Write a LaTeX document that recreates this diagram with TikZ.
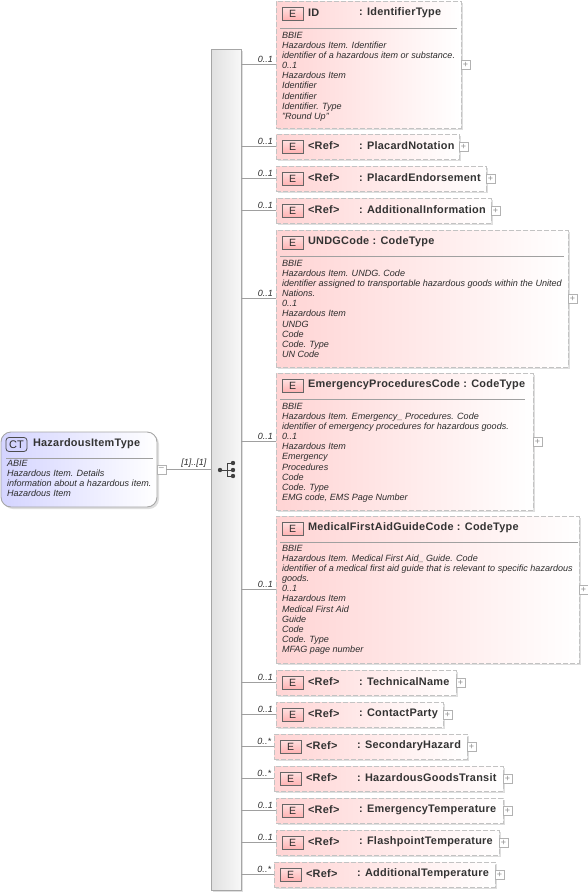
\documentclass[tikz,border=0pt]{standalone}
\usepackage{fontspec}
\usepackage{tikz}
\usetikzlibrary{arrows.meta,positioning,calc,shadows}
\setmainfont{Liberation Sans}
\newfontfamily\titlefont[LetterSpace=2.5]{Liberation Sans}
\definecolor{softpink}{RGB}{255,212,212}
\definecolor{softviolet}{RGB}{212,212,255}
\definecolor{badgepink}{RGB}{255,170,170}
\definecolor{framegray}{RGB}{195,195,195}
\definecolor{linegray}{RGB}{160,160,160}
\definecolor{textgray}{RGB}{45,45,45}

\begin{document}
\begin{tikzpicture}[
    x=1pt, y=-1pt,
    every node/.style={inner sep=0pt, outer sep=0pt, text=textgray},
    softshadow/.style={drop shadow={shadow xshift=2pt, shadow yshift=-2pt, fill=black, opacity=.13}},
    elem/.style={draw=framegray, line width=1pt, dash pattern=on 5pt off 2pt, anchor=north west, left color=softpink, right color=white, softshadow},
    badge/.style={draw=black!60, line width=.8pt, minimum width=21pt, minimum height=13pt, top color=badgepink!35, bottom color=badgepink!90, font=\fontsize{10.5}{11}\selectfont},
    title/.style={anchor=west, yshift=.5pt, font=\titlefont\fontsize{10.9}{12}\selectfont\bfseries, text=black!80},
    reftag/.style={title, text width=51pt},
    desc/.style={anchor=north west, align=left, font=\fontsize{9.05}{10.15}\selectfont\itshape},
    divider/.style={draw=linegray, line width=.8pt},
    plusbox/.style={draw=black!30, fill=white, line width=.7pt, minimum size=9pt, font=\fontsize{9}{9}\selectfont, text=black!45},
    conn/.style={draw=linegray, line width=.8pt},
    mult/.style={pos=1, anchor=south east, xshift=-3pt, yshift=2pt, font=\fontsize{9}{10}\selectfont\itshape}
  ]
    \useasboundingbox (0,0) rectangle (588,894);

    % left type box and the sequence bar
    \node[anchor=north west, draw=black!35, line width=.9pt, rounded corners=10pt, minimum width=156pt, minimum height=75pt, left color=softviolet, right color=white, softshadow] (hazard) at (1,432) {};
    \node[draw=black!70, line width=.8pt, rounded corners=3pt, minimum width=21pt, minimum height=14pt, fill=softviolet, font=\fontsize{11}{11}\selectfont, below right=5.5pt and 5pt of hazard.north west] (hazardct) {CT};
    \node[title, right=6pt of hazardct] (hazardtitle) {HazardousItemType};
    \draw[divider] ([shift={(5pt,-26pt)}]hazard.north west) -- ([shift={(-4pt,-26pt)}]hazard.north east);
    \node[desc, below right=28pt and 6pt of hazard.north west] (hazarddesc) {ABIE\\Hazardous Item. Details\\information about a hazardous item.\\Hazardous Item};
    \node[plusbox, right=0pt of hazard] (hazardminus) {--};
    \node[anchor=north west, draw=black!35, line width=.9pt, minimum width=30pt, minimum height=841pt, left color=black!12, right color=black!3, softshadow] (spine) at (211,49) {};
    \draw[conn] (hazardminus) -- (spine.west |- hazardminus) node[pos=.62, anchor=south, yshift=2pt, font=\fontsize{9}{10}\selectfont\itshape] (hazardmult) {[1]..[1]};
    \fill[black!75] (220,470) circle (2.2pt) (233,463) circle (2.2pt) (233,470) circle (2.2pt) (233,476) circle (2.2pt);
    \draw[black!75, line width=.9pt] (220,470) -- (233,470) (227,463) -- (227,476) (227,463) -- (233,463) (227,476) -- (233,476);

    % ID
    \node[elem, minimum width=185pt, minimum height=127pt] (id) at (276,1) {};
    \node[badge, below right=6pt and 6pt of id.north west] (idbadge) {E};
    \node[reftag, right=5pt of idbadge] (idname) {ID};
    \node[title, right=0pt of idname, yshift=-.5pt] (idtype) {: IdentifierType};
    \draw[divider] ([shift={(4pt,-27pt)}]id.north west) -- ([shift={(-4pt,-27pt)}]id.north east);
    \node[desc, below right=31pt and 6pt of id.north west] (iddesc) {BBIE\\Hazardous Item. Identifier\\identifier of a hazardous item or substance.\\0..1\\Hazardous Item\\Identifier\\Identifier\\Identifier. Type\\"Round Up"};
    \node[plusbox, right=0pt of id] (idplus) {+};
    \draw[conn] (spine.east |- id.west) -- (id.west) node[mult] (idmult) {0..1};

    % PlacardNotation
    \node[elem, minimum width=183pt, minimum height=25pt] (notation) at (276,134) {};
    \node[badge, below right=6pt and 6pt of notation.north west] (notationbadge) {E};
    \node[reftag, right=5pt of notationbadge] (notationname) {<Ref>};
    \node[title, right=0pt of notationname, yshift=-.5pt] (notationtype) {: PlacardNotation};
    \node[plusbox, right=0pt of notation] (notationplus) {+};
    \draw[conn] (spine.east |- notation.west) -- (notation.west) node[mult] (notationmult) {0..1};

    % PlacardEndorsement
    \node[elem, minimum width=210pt, minimum height=25pt] (endorsement) at (276,166) {};
    \node[badge, below right=6pt and 6pt of endorsement.north west] (endorsementbadge) {E};
    \node[reftag, right=5pt of endorsementbadge] (endorsementname) {<Ref>};
    \node[title, right=0pt of endorsementname, yshift=-.5pt] (endorsementtype) {: PlacardEndorsement};
    \node[plusbox, right=0pt of endorsement] (endorsementplus) {+};
    \draw[conn] (spine.east |- endorsement.west) -- (endorsement.west) node[mult] (endorsementmult) {0..1};

    % AdditionalInformation
    \node[elem, minimum width=215pt, minimum height=25pt] (addinfo) at (276,198) {};
    \node[badge, below right=6pt and 6pt of addinfo.north west] (addinfobadge) {E};
    \node[reftag, right=5pt of addinfobadge] (addinfoname) {<Ref>};
    \node[title, right=0pt of addinfoname, yshift=-.5pt] (addinfotype) {: AdditionalInformation};
    \node[plusbox, right=0pt of addinfo] (addinfoplus) {+};
    \draw[conn] (spine.east |- addinfo.west) -- (addinfo.west) node[mult] (addinfomult) {0..1};

    % UNDGCode
    \node[elem, minimum width=292pt, minimum height=137pt] (undg) at (276,230) {};
    \node[badge, below right=6pt and 6pt of undg.north west] (undgbadge) {E};
    \node[title, right=5pt of undgbadge] (undgname) {UNDGCode : CodeType};
    \draw[divider] ([shift={(4pt,-26pt)}]undg.north west) -- ([shift={(-4pt,-26pt)}]undg.north east);
    \node[desc, below right=30pt and 6pt of undg.north west] (undgdesc) {BBIE\\Hazardous Item. UNDG. Code\\identifier assigned to transportable hazardous goods within the United\\Nations.\\0..1\\Hazardous Item\\UNDG\\Code\\Code. Type\\UN Code};
    \node[plusbox, right=0pt of undg] (undgplus) {+};
    \draw[conn] (spine.east |- undg.west) -- (undg.west) node[mult] (undgmult) {0..1};

    % EmergencyProceduresCode
    \node[elem, minimum width=257pt, minimum height=137pt] (procedures) at (276,373) {};
    \node[badge, below right=6pt and 6pt of procedures.north west] (proceduresbadge) {E};
    \node[title, right=5pt of proceduresbadge] (proceduresname) {EmergencyProceduresCode : CodeType};
    \draw[divider] ([shift={(4pt,-26pt)}]procedures.north west) -- ([shift={(-8pt,-26pt)}]procedures.north east);
    \node[desc, below right=30pt and 6pt of procedures.north west] (proceduresdesc) {BBIE\\Hazardous Item. Emergency\_ Procedures. Code\\identifier of emergency procedures for hazardous goods.\\0..1\\Hazardous Item\\Emergency\\Procedures\\Code\\Code. Type\\EMG code, EMS Page Number};
    \node[plusbox, right=0pt of procedures] (proceduresplus) {+};
    \draw[conn] (spine.east |- procedures.west) -- (procedures.west) node[mult] (proceduresmult) {0..1};

    % MedicalFirstAidGuideCode
    \node[elem, minimum width=303pt, minimum height=147pt] (medical) at (276,516) {};
    \node[badge, below right=6pt and 6pt of medical.north west] (medicalbadge) {E};
    \node[title, right=5pt of medicalbadge] (medicalname) {MedicalFirstAidGuideCode : CodeType};
    \draw[divider] ([shift={(4pt,-26pt)}]medical.north west) -- ([shift={(-1pt,-26pt)}]medical.north east);
    \node[desc, below right=29pt and 6pt of medical.north west] (medicaldesc) {BBIE\\Hazardous Item. Medical First Aid\_ Guide. Code\\identifier of a medical first aid guide that is relevant to specific hazardous\\goods.\\0..1\\Hazardous Item\\Medical First Aid\\Guide\\Code\\Code. Type\\MFAG page number};
    \node[plusbox, right=0pt of medical] (medicalplus) {+};
    \draw[conn] (spine.east |- medical.west) -- (medical.west) node[mult] (medicalmult) {0..1};

    % TechnicalName
    \node[elem, minimum width=180pt, minimum height=25pt] (technical) at (276,670) {};
    \node[badge, below right=6pt and 6pt of technical.north west] (technicalbadge) {E};
    \node[reftag, right=5pt of technicalbadge] (technicalname) {<Ref>};
    \node[title, right=0pt of technicalname, yshift=-.5pt] (technicaltype) {: TechnicalName};
    \node[plusbox, right=0pt of technical] (technicalplus) {+};
    \draw[conn] (spine.east |- technical.west) -- (technical.west) node[mult] (technicalmult) {0..1};

    % ContactParty
    \node[elem, minimum width=167pt, minimum height=25pt] (contact) at (276,702) {};
    \node[badge, below right=6pt and 6pt of contact.north west] (contactbadge) {E};
    \node[reftag, right=5pt of contactbadge] (contactname) {<Ref>};
    \node[title, right=0pt of contactname, yshift=-.5pt] (contacttype) {: ContactParty};
    \node[plusbox, right=0pt of contact] (contactplus) {+};
    \draw[conn] (spine.east |- contact.west) -- (contact.west) node[mult] (contactmult) {0..1};

    % SecondaryHazard
    \node[elem, minimum width=193pt, minimum height=25pt] (secondary) at (274,734) {};
    \node[badge, below right=6pt and 6pt of secondary.north west] (secondarybadge) {E};
    \node[reftag, right=5pt of secondarybadge] (secondaryname) {<Ref>};
    \node[title, right=0pt of secondaryname, yshift=-.5pt] (secondarytype) {: SecondaryHazard};
    \node[plusbox, right=0pt of secondary] (secondaryplus) {+};
    \draw[conn] (spine.east |- secondary.west) -- (secondary.west) node[mult] (secondarymult) {0..*};

    % HazardousGoodsTransit
    \node[elem, minimum width=229pt, minimum height=25pt] (transit) at (274,766) {};
    \node[badge, below right=6pt and 6pt of transit.north west] (transitbadge) {E};
    \node[reftag, right=5pt of transitbadge] (transitname) {<Ref>};
    \node[title, right=0pt of transitname, yshift=-.5pt] (transittype) {: HazardousGoodsTransit};
    \node[plusbox, right=0pt of transit] (transitplus) {+};
    \draw[conn] (spine.east |- transit.west) -- (transit.west) node[mult] (transitmult) {0..*};

    % EmergencyTemperature
    \node[elem, minimum width=227pt, minimum height=25pt] (emergency) at (276,798) {};
    \node[badge, below right=6pt and 6pt of emergency.north west] (emergencybadge) {E};
    \node[reftag, right=5pt of emergencybadge] (emergencyname) {<Ref>};
    \node[title, right=0pt of emergencyname, yshift=-.5pt] (emergencytype) {: EmergencyTemperature};
    \node[plusbox, right=0pt of emergency] (emergencyplus) {+};
    \draw[conn] (spine.east |- emergency.west) -- (emergency.west) node[mult] (emergencymult) {0..1};

    % FlashpointTemperature
    \node[elem, minimum width=223pt, minimum height=25pt] (flashpoint) at (276,830) {};
    \node[badge, below right=6pt and 6pt of flashpoint.north west] (flashpointbadge) {E};
    \node[reftag, right=5pt of flashpointbadge] (flashpointname) {<Ref>};
    \node[title, right=0pt of flashpointname, yshift=-.5pt] (flashpointtype) {: FlashpointTemperature};
    \node[plusbox, right=0pt of flashpoint] (flashpointplus) {+};
    \draw[conn] (spine.east |- flashpoint.west) -- (flashpoint.west) node[mult] (flashpointmult) {0..1};

    % AdditionalTemperature
    \node[elem, minimum width=221pt, minimum height=25pt] (addtemp) at (274,862) {};
    \node[badge, below right=6pt and 6pt of addtemp.north west] (addtempbadge) {E};
    \node[reftag, right=5pt of addtempbadge] (addtempname) {<Ref>};
    \node[title, right=0pt of addtempname, yshift=-.5pt] (addtemptype) {: AdditionalTemperature};
    \node[plusbox, right=0pt of addtemp] (addtempplus) {+};
    \draw[conn] (spine.east |- addtemp.west) -- (addtemp.west) node[mult] (addtempmult) {0..*};
  \end{tikzpicture}
\end{document}
